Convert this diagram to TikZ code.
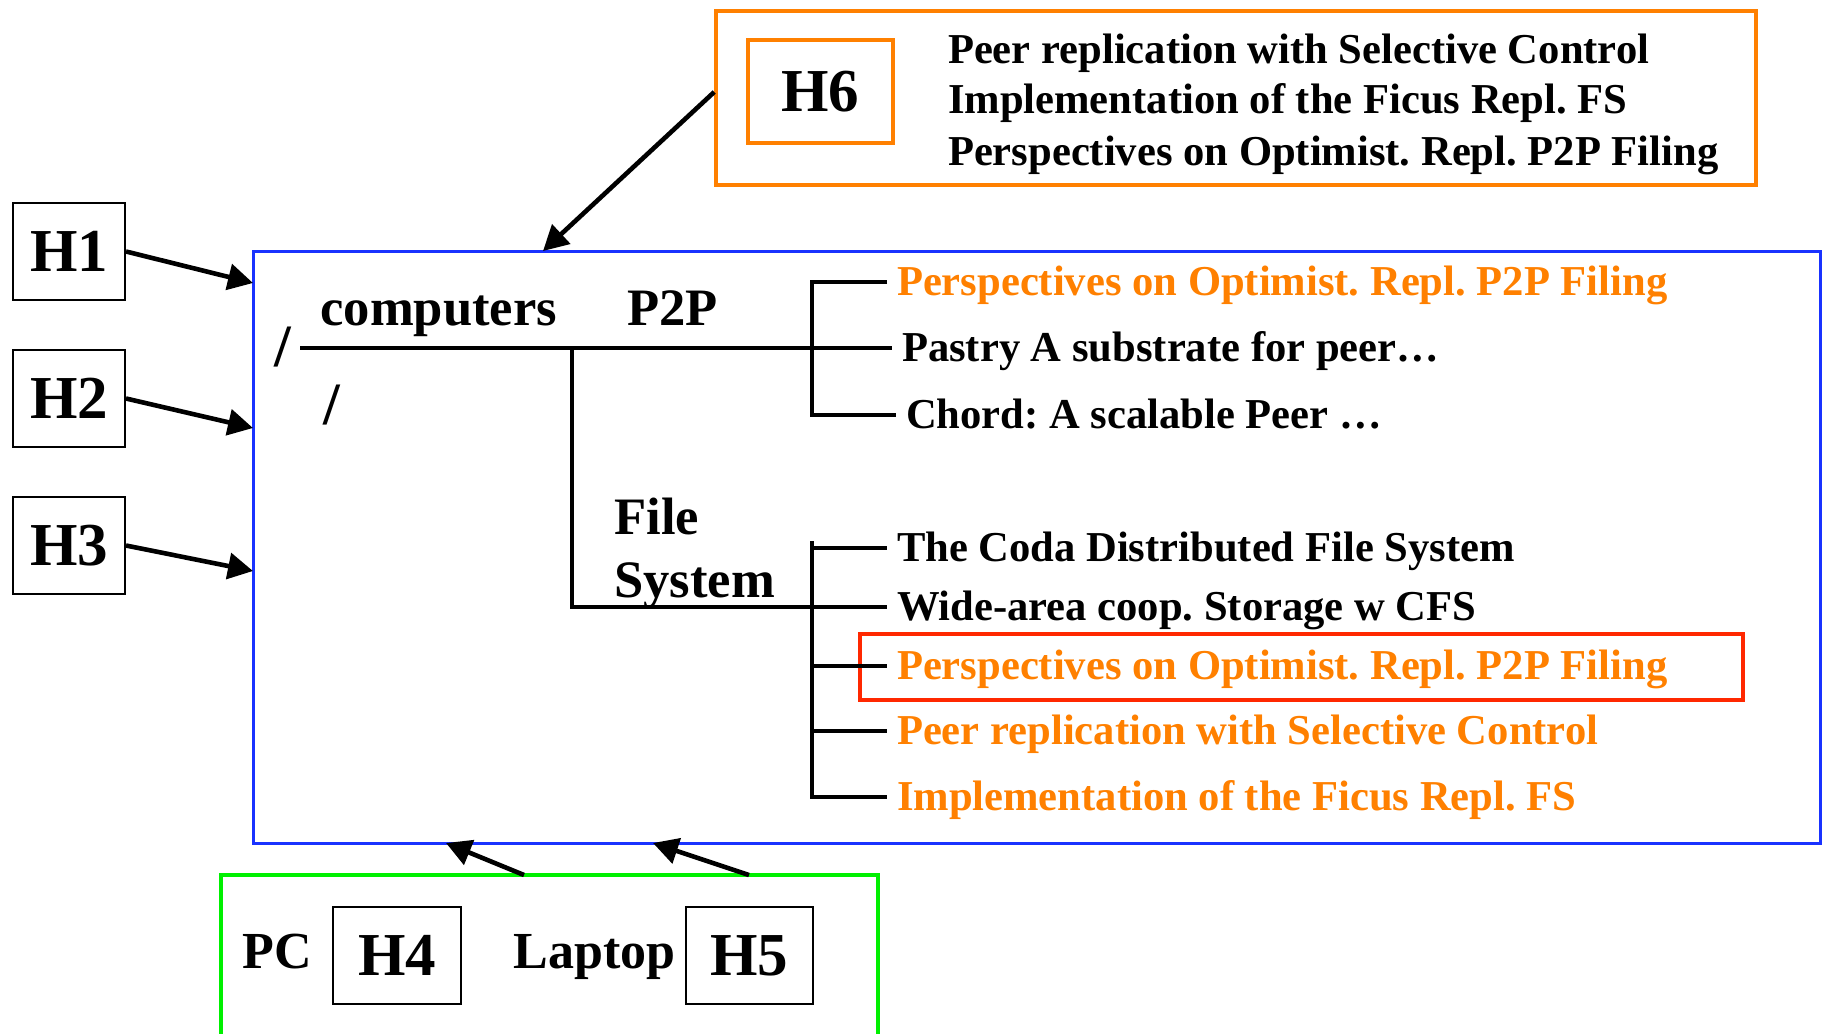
\documentclass[tikz,border=0pt]{standalone}
\usepackage{fontspec}
\setmainfont{Liberation Serif}
\usetikzlibrary{positioning,arrows.meta}

\definecolor{hlorange}{RGB}{255,128,0}
\definecolor{dirblue}{RGB}{25,50,255}
\definecolor{homegreen}{RGB}{0,240,0}
\definecolor{selred}{RGB}{255,40,0}

\begin{document}
\frenchspacing
\begin{tikzpicture}[
  x=0.5pt,y=-0.5pt,
  hbox/.style={draw,line width=1pt,inner sep=0pt,minimum width=56pt,minimum height=48.5pt,font=\fontsize{30.5}{36}\selectfont\bfseries},
  lbl/.style={anchor=base west,inner sep=0pt,font=\fontsize{26.3}{31}\selectfont\bfseries},
  slsh/.style={lbl,font=\fontsize{30}{36}\selectfont\bfseries},
  ent/.style={anchor=west,inner sep=0pt,outer sep=5pt,text height=15pt,text depth=2pt,font=\fontsize{21.3}{25.5}\selectfont\bfseries},
  hot/.style={ent,text=hlorange},
  frame/.style={inner sep=0pt},
  arr/.style={-{Triangle[length=12.5pt,width=13pt]},line width=2.3pt},
  tree/.style={line width=1.7pt},
]
\useasboundingbox (0,0) rectangle (1830,1033);

% hosts on the left
\node[hbox] (h1) at (69,251.5) {H1};
\node[hbox,below=24pt of h1] (h2) {H2};
\node[hbox,below=24pt of h2] (h3) {H3};

% H6 and its list
\node[frame,draw=hlorange,line width=1.8pt,minimum width=520pt,minimum height=87pt] (h6grp) at (1236,98) {};
\node[hbox,draw=hlorange,line width=2pt,minimum width=72.5pt,minimum height=51.5pt] (h6) at (820.5,91.5) {H6};
\node[ent] (h6a) at (938,50) {Peer replication with Selective Control};
\node[ent] (h6b) at (938,100) {Implementation of the Ficus Repl. FS};
\node[ent] (h6c) at (938,152) {Perspectives on Optimist. Repl. P2P Filing};

% the name space
\node[frame,draw=dirblue,line width=1.5pt,minimum width=783.5pt,minimum height=296pt] (dirbox) at (1036.5,547) {};
\node[slsh] (sl1) at (274,366) {/};
\node[slsh] (sl2) at (323,424) {/};
\node[lbl] (comp) at (320,325) {computers};
\node[lbl] (p2p) at (627,325) {P2P};
\node[lbl] (file) at (614,534) {File};
\node[lbl] (sys) at (614,597) {System};

\node[hot] (pp1) at (887,282) {Perspectives on Optimist. Repl. P2P Filing};
\node[ent] (pp2) at (892,348) {Pastry A substrate for peer\dots};
\node[ent] (pp3) at (896,415) {Chord: A scalable Peer \dots};

\node[ent] (fs1) at (887,548) {The Coda Distributed File System};
\node[ent] (fs2) at (887,607) {Wide-area coop. Storage w CFS};
\node[hot] (fs3) at (887,666) {Perspectives on Optimist. Repl. P2P Filing};
\node[hot] (fs4) at (887,731) {Peer replication with Selective Control};
\node[hot] (fs5) at (887,797) {Implementation of the Ficus Repl. FS};
\node[frame,draw=selred,line width=2.1pt,minimum width=441.5pt,minimum height=33.25pt] (sel) at (1301.5,667) {};

\coordinate (root) at (300,348);
\coordinate (branch) at (572,348);
\coordinate (p2pbar) at (812,283);
\coordinate (fsbar) at (812,541);
\draw[tree] (root) -- (pp2.west);
\draw[tree] (branch) |- (fs2.west);
\draw[tree] (pp1.west) -| (p2pbar |- pp3) -- (pp3.west);
\draw[tree] (fsbar) |- (fs5.west);
\draw[tree] (fsbar |- fs1) -- (fs1.west);
\draw[tree] (fsbar |- fs3) -- (fs3.west);
\draw[tree] (fsbar |- fs4) -- (fs4.west);

% home machines
\node[frame,draw=homegreen,line width=2pt,minimum width=328.5pt,minimum height=97pt] (home) at (549.5,972) {};
\node[lbl,font=\fontsize{26}{31}\selectfont\bfseries] (pc) at (242,968) {PC};
\node[hbox,minimum width=64pt,minimum height=48.5pt] (h4) at (397,955.5) {H4};
\node[lbl,font=\fontsize{26}{31}\selectfont\bfseries] (lap) at (513,968) {Laptop};
\node[hbox,minimum width=63.5pt,minimum height=48.5pt] (h5) at (749.5,955.5) {H5};

\coordinate (in1) at (253,283);
\coordinate (in2) at (253,428);
\coordinate (in3) at (253,571);
\coordinate (intop) at (543,251);
\coordinate (out4) at (524,875);
\coordinate (tip4) at (446,843);
\coordinate (out5) at (749,875);
\coordinate (tip5) at (653,843);

\draw[arr] (h1.east) -- (in1);
\draw[arr] (h2.east) -- (in2);
\draw[arr] (h3.east) -- (in3);
\draw[arr] ([yshift=3pt]h6grp.west) -- (intop);
\draw[arr] (out4) -- (tip4);
\draw[arr] (out5) -- (tip5);
\end{tikzpicture}
\end{document}
